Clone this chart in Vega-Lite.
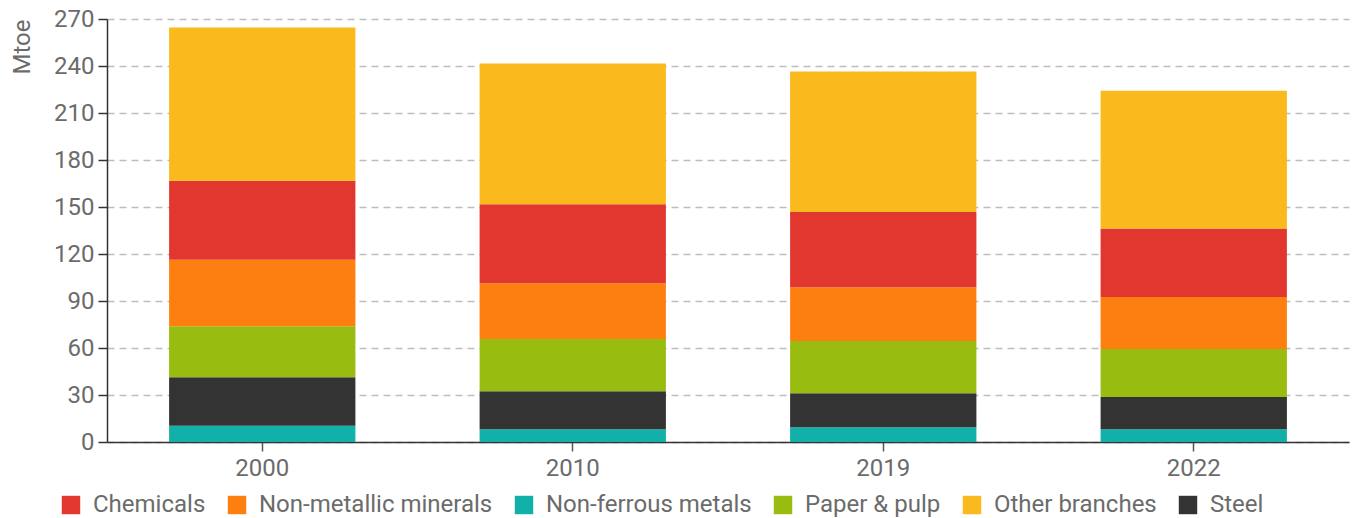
{
  "$schema": "https://vega.github.io/schema/vega-lite/v6.json",
  "width": 1242,
  "height": 423,
  "autosize": {"type": "none"},
  "padding": {"left": 107, "top": 19, "right": 9, "bottom": 76},
  "background": "white",
  "config": {
    "font": "Roboto",
    "view": {"stroke": null}
  },
  "data": {
    "values": [
      {"year": "2000", "sector": "Non-ferrous metals", "value": 10.4},
      {"year": "2000", "sector": "Steel", "value": 31.0},
      {"year": "2000", "sector": "Paper & pulp", "value": 32.5},
      {"year": "2000", "sector": "Non-metallic minerals", "value": 42.5},
      {"year": "2000", "sector": "Chemicals", "value": 50.3},
      {"year": "2000", "sector": "Other branches", "value": 97.8},
      {"year": "2010", "sector": "Non-ferrous metals", "value": 8.1},
      {"year": "2010", "sector": "Steel", "value": 24.3},
      {"year": "2010", "sector": "Paper & pulp", "value": 33.4},
      {"year": "2010", "sector": "Non-metallic minerals", "value": 35.5},
      {"year": "2010", "sector": "Chemicals", "value": 50.5},
      {"year": "2010", "sector": "Other branches", "value": 89.8},
      {"year": "2019", "sector": "Non-ferrous metals", "value": 9.4},
      {"year": "2019", "sector": "Steel", "value": 21.7},
      {"year": "2019", "sector": "Paper & pulp", "value": 33.4},
      {"year": "2019", "sector": "Non-metallic minerals", "value": 34.3},
      {"year": "2019", "sector": "Chemicals", "value": 48.0},
      {"year": "2019", "sector": "Other branches", "value": 89.7},
      {"year": "2022", "sector": "Non-ferrous metals", "value": 8.1},
      {"year": "2022", "sector": "Steel", "value": 20.6},
      {"year": "2022", "sector": "Paper & pulp", "value": 30.7},
      {"year": "2022", "sector": "Non-metallic minerals", "value": 33.1},
      {"year": "2022", "sector": "Chemicals", "value": 43.8},
      {"year": "2022", "sector": "Other branches", "value": 87.9}
    ]
  },
  "transform": [
    {"calculate": "indexof(['Non-ferrous metals','Steel','Paper & pulp','Non-metallic minerals','Chemicals','Other branches'], datum.sector)", "as": "stackOrder"}
  ],
  "mark": {"type": "bar"},
  "encoding": {
    "x": {
      "field": "year",
      "type": "nominal",
      "scale": {"paddingInner": 0.4, "paddingOuter": 0.2},
      "axis": {
        "title": null,
        "labelAngle": 0,
        "labelFontSize": 24,
        "labelColor": "#6b6b6b",
        "labelPadding": 5,
        "domainColor": "#333333",
        "domainWidth": 1.5,
        "tickColor": "#555555",
        "tickSize": 9,
        "tickWidth": 1.5
      }
    },
    "y": {
      "field": "value",
      "type": "quantitative",
      "aggregate": "sum",
      "stack": "zero",
      "scale": {"domain": [0, 270], "nice": false},
      "axis": {
        "title": "Mtoe",
        "titleFontSize": 24,
        "titleFontWeight": "normal",
        "titleColor": "#6b6b6b",
        "titleAnchor": "end",
        "titlePadding": 19,
        "values": [0, 30, 60, 90, 120, 150, 180, 210, 240, 270],
        "labelFontSize": 24,
        "labelColor": "#6b6b6b",
        "labelPadding": 4,
        "domainColor": "#333333",
        "domainWidth": 1.5,
        "tickColor": "#333333",
        "tickSize": 9,
        "tickWidth": 1.5,
        "grid": true,
        "gridColor": "#bdbdbd",
        "gridDash": [7, 5],
        "gridWidth": 1.3
      }
    },
    "color": {
      "field": "sector",
      "type": "nominal",
      "scale": {
        "domain": ["Chemicals", "Non-metallic minerals", "Non-ferrous metals", "Paper & pulp", "Other branches", "Steel"],
        "range": ["#E2372E", "#FD7F10", "#11B0A9", "#98BC10", "#FAB91C", "#333333"]
      },
      "legend": {
        "title": null,
        "orient": "none",
        "legendX": -48,
        "legendY": 474,
        "direction": "horizontal",
        "columns": 6,
        "symbolType": "square",
        "symbolSize": 340,
        "symbolStrokeWidth": 0,
        "labelFontSize": 24,
        "labelLimit": 0,
        "labelColor": "#6b6b6b",
        "columnPadding": 19,
        "labelOffset": 10
      }
    },
    "order": {"field": "stackOrder", "type": "quantitative"}
  }
}
